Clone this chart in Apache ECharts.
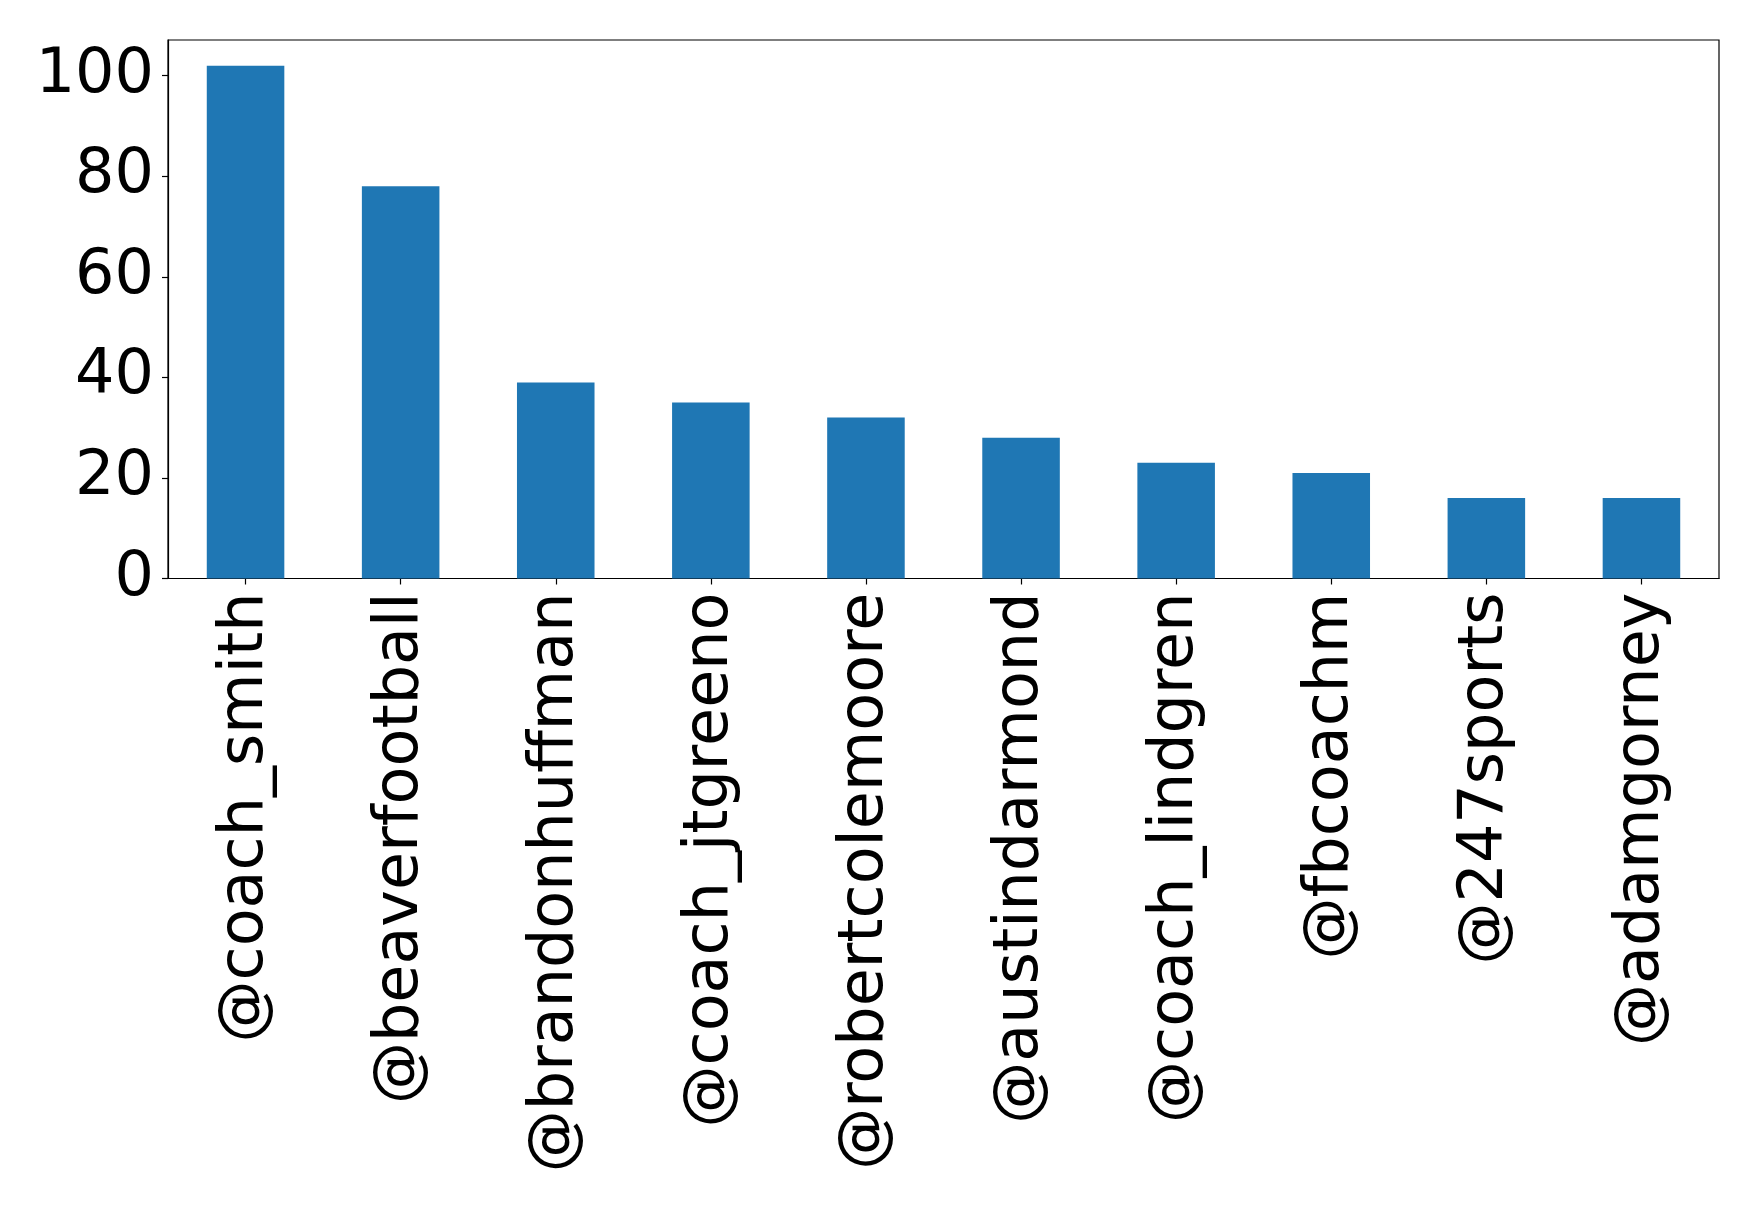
<!DOCTYPE html>
<html>
<head>
<meta charset="utf-8">
<script src="https://cdn.jsdelivr.net/npm/echarts@6/dist/echarts.min.js"></script>
<style>
html,body{margin:0;padding:0;background:#fff;}
#chart{width:1758px;height:1213px;}
</style>
</head>
<body>
<div id="chart"></div>
<script>
const categories = ['@coach_smith','@beaverfootball','@brandonhuffman','@coach_jtgreeno','@robertcolemoore','@austindarmond','@coach_lindgren','@fbcoachm','@247sports','@adamgorney'];
const values = [102, 78, 39, 35, 32, 28, 23, 21, 16, 16];
const yTicks = [0, 20, 40, 60, 80, 100];

const chart = echarts.init(document.getElementById('chart'), null, {renderer: 'canvas'});
const font = 'DejaVu Sans';
chart.setOption({
  animation: false,
  backgroundColor: '#fff',
  grid: {left: 168, right: 39, top: 40, bottom: 634.5, show: true, borderColor: '#000', borderWidth: 1.2, containLabel: false},
  xAxis: {
    type: 'category',
    data: categories,
    axisLine: {show: true, lineStyle: {color: '#000', width: 1.2}},
    axisTick: {show: true, alignWithLabel: true, length: 6, lineStyle: {color: '#000', width: 1.2}},
    axisLabel: {rotate: 90, interval: 0, margin: 14, fontFamily: font, fontSize: 62, color: '#000'},
    splitLine: {show: false}
  },
  yAxis: {
    type: 'value',
    min: 0,
    max: 107.1,
    interval: 20,
    axisLine: {show: true, lineStyle: {color: '#000', width: 1.2}},
    axisTick: {show: true, length: 6, lineStyle: {color: '#000', width: 1.2}, customValues: yTicks},
    axisLabel: {margin: 14, fontFamily: font, fontSize: 62, color: '#000', customValues: yTicks},
    splitLine: {show: false}
  },
  series: [{
    type: 'bar',
    data: values,
    barWidth: '50%',
    itemStyle: {color: '#1f77b4'}
  }]
});
</script>
</body>
</html>
